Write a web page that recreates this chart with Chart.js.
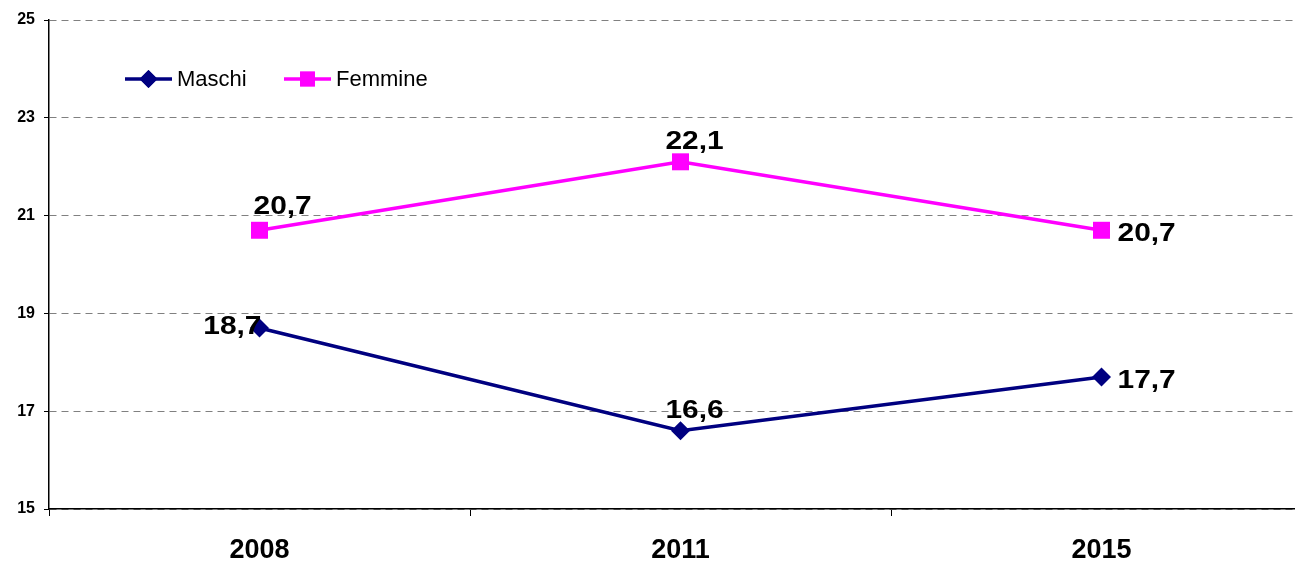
<!DOCTYPE html>
<html>
<head>
<meta charset="utf-8">
<script src="https://cdn.jsdelivr.net/npm/chart.js@4"></script>
<style>
html,body{margin:0;padding:0;background:#fff;overflow:hidden;}
#wrap{width:1312px;height:561px;}
</style>
</head>
<body>
<div id="wrap"><canvas id="c" width="1312" height="561"></canvas></div>
<script>
const categories = ['2008', '2011', '2015'];
const maschi = [18.7, 16.6, 17.7];
const femmine = [20.7, 22.1, 20.7];
const seriesNames = ['Maschi', 'Femmine'];
const yTicks = [15, 17, 19, 21, 23, 25];

const FONT = '"Liberation Sans", Arial, sans-serif';

const valueLabels = {
  id: 'valueLabels',
  afterDatasetsDraw(chart) {
    const ctx = chart.ctx;
    chart.data.datasets.forEach((ds, di) => {
      const meta = chart.getDatasetMeta(di);
      meta.data.forEach((pt, i) => {
        const txt = ds.data[i].toFixed(1).replace('.', ',');
        const pos = ds.labelPos[i];
        let x = pt.x, y = pt.y;
        ctx.save();
        ctx.font = 'bold 26px ' + FONT;
        ctx.fillStyle = '#000';
        if (pos === 'top') {
          ctx.textAlign = 'center'; ctx.textBaseline = 'alphabetic';
          x += 14; y -= 13;
        } else if (pos === 'topright') {
          ctx.textAlign = 'left'; ctx.textBaseline = 'alphabetic';
          x -= 6; y -= 16;
        } else if (pos === 'left') {
          ctx.textAlign = 'right'; ctx.textBaseline = 'middle';
          x += 2; y -= 1;
        } else {
          ctx.textAlign = 'left'; ctx.textBaseline = 'middle';
          x += 16; y += 4;
        }
        ctx.translate(x, y);
        ctx.scale(1.15, 1);
        ctx.fillText(txt, 0, 0);
        ctx.restore();
      });
    });
  }
};

const customLegend = {
  id: 'customLegend',
  afterDraw(chart) {
    const ctx = chart.ctx;
    ctx.save();
    ctx.font = '22px ' + FONT;
    ctx.textBaseline = 'middle';
    ctx.textAlign = 'left';
    const y = 79;
    const starts = [125, 284];
    chart.data.datasets.forEach((ds, di) => {
      const x0 = starts[di];
      ctx.strokeStyle = ds.borderColor;
      ctx.lineWidth = 3.5;
      ctx.beginPath();
      ctx.moveTo(x0, y); ctx.lineTo(x0 + 47, y);
      ctx.stroke();
      ctx.fillStyle = ds.backgroundColor;
      Chart.helpers.drawPoint(ctx, {pointStyle: ds.pointStyle, radius: di === 0 ? 9 : 10.5, borderWidth: 0}, x0 + 23.5, y);
      ctx.fill();
      ctx.fillStyle = '#000';
      ctx.fillText(ds.label, x0 + 52, y + 1);
    });
    ctx.restore();
  }
};

new Chart(document.getElementById('c'), {
  type: 'line',
  data: {
    labels: categories,
    datasets: [
      {
        label: seriesNames[0],
        data: maschi,
        borderColor: '#000080',
        backgroundColor: '#000080',
        borderWidth: 3.5,
        pointStyle: 'rectRot',
        pointRadius: 9.5,
        pointBorderWidth: 0,
        tension: 0,
        labelPos: ['left', 'top', 'right']
      },
      {
        label: seriesNames[1],
        data: femmine,
        borderColor: '#FF00FF',
        backgroundColor: '#FF00FF',
        borderWidth: 3.5,
        pointStyle: 'rect',
        pointRadius: 12,
        pointBorderWidth: 0,
        tension: 0,
        labelPos: ['topright', 'top', 'right']
      }
    ]
  },
  options: {
    responsive: false,
    animation: false,
    layout: {autoPadding: false, padding: {top: 20, left: 0, right: 0, bottom: 0}},
    plugins: {legend: {display: false}, tooltip: {enabled: false}},
    scales: {
      x: {
        offset: true,
        grid: {offset: true, drawOnChartArea: false, drawTicks: true, tickLength: 7, tickColor: '#000', tickWidth: 1},
        border: {color: '#000', width: 1.5},
        ticks: {font: {family: FONT, size: 27, weight: 'bold'}, color: '#000', padding: 18, maxRotation: 0},
        afterFit(s) { s.height = 52; s.paddingLeft = 0; s.paddingRight = 0; }
      },
      y: {
        min: 15, max: 25,
        afterBuildTicks(s) { s.ticks = yTicks.map(v => ({value: v})); },
        grid: {color: '#808080', lineWidth: 1, tickLength: 5, tickColor: '#000', tickWidth: 1},
        border: {color: '#000', width: 1.5, dash: [7, 5]},
        ticks: {font: {family: FONT, size: 16, weight: 'bold'}, color: '#000', padding: 9},
        afterFit(s) { s.width = 49; }
      }
    }
  },
  plugins: [valueLabels, customLegend]
});
</script>
</body>
</html>
